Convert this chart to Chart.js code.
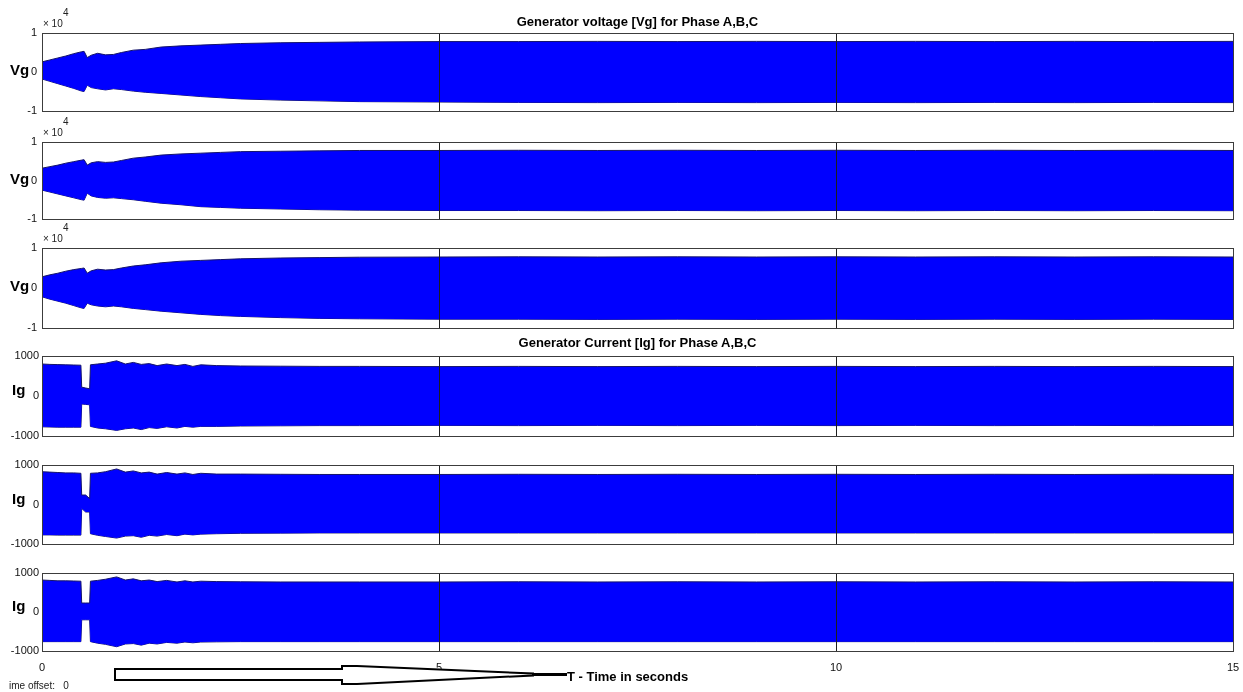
<!DOCTYPE html>
<html>
<head>
<meta charset="utf-8">
<script src="https://cdn.jsdelivr.net/npm/chart.js@4.4.1/dist/chart.umd.min.js"></script>
<style>
  html, body { margin: 0; padding: 0; background: #fff; }
  body { width: 1243px; height: 692px; overflow: hidden; position: relative;
         font-family: "Liberation Sans", Arial, sans-serif; color: #000; }
  canvas { position: absolute; left: 0; }
  .txt { position: absolute; white-space: nowrap; }
  .title { font-weight: bold; font-size: 13px; line-height: 16px; width: 600px; text-align: center; }
  .ylab { font-weight: bold; font-size: 15px; line-height: 18px; }
  .exp { font-size: 10px; line-height: 12px; color: #222; }
  svg { position: absolute; left: 0; top: 0; }
</style>
</head>
<body>
<script>
// ---------- data: envelope of the three-phase waveforms ----------
const voltTime = [0, 0.1, 0.2, 0.3, 0.4, 0.5, 0.53, 0.57, 0.62, 0.7, 0.8, 0.9, 1.0, 1.15, 1.3, 1.5,
  1.75, 2.0, 2.25, 2.5, 3.0, 3.5, 4.0, 5, 6, 7, 8, 9, 10, 11, 12, 13, 14, 15];

const vgAUpper = [2600, 3100, 3600, 4100, 4700, 5200, 5300, 3700, 4300, 4800, 4400, 4500, 5000, 5600, 5800, 6400,
  6700, 6900, 7100, 7300, 7500, 7600, 7700, 7800, 7800, 7850, 7800, 7850, 7800, 7850, 7800, 7850, 7800, 7850];
const vgALower = [-1800, -2400, -3000, -3600, -4200, -4900, -5000, -3400, -4000, -4300, -4600, -4300, -4500, -4900, -5200, -5500,
  -5900, -6300, -6600, -6900, -7200, -7400, -7600, -7700, -7800, -7850, -7800, -7850, -7800, -7850, -7800, -7850, -7800, -7850];

const vgBUpper = [3200, 3600, 4000, 4500, 4900, 5300, 5400, 4000, 4600, 4900, 4700, 4800, 5200, 5800, 6100, 6600,
  6900, 7100, 7300, 7500, 7600, 7700, 7800, 7800, 7850, 7800, 7850, 7800, 7850, 7800, 7850, 7800, 7850, 7800];
const vgBLower = [-2500, -3000, -3500, -4000, -4500, -5000, -5100, -3300, -4000, -4400, -4600, -4500, -4700, -5000, -5400, -5900,
  -6300, -6800, -7000, -7200, -7400, -7600, -7700, -7800, -7800, -7850, -7800, -7850, -7800, -7850, -7800, -7850, -7800, -7850];

const vgCUpper = [2800, 3300, 3700, 4200, 4600, 4900, 5000, 3700, 4300, 4700, 4500, 4600, 5000, 5500, 5800, 6300,
  6700, 6900, 7100, 7300, 7500, 7600, 7700, 7750, 7800, 7750, 7800, 7750, 7800, 7750, 7800, 7750, 7800, 7750];
const vgCLower = [-2200, -2800, -3300, -3800, -4400, -5000, -5100, -3800, -4200, -4500, -4700, -4500, -4700, -5100, -5400, -5800,
  -6200, -6600, -6900, -7100, -7400, -7600, -7700, -7800, -7800, -7850, -7800, -7850, -7800, -7850, -7800, -7850, -7800, -7850];

const currTime = [0, 0.1, 0.2, 0.3, 0.4, 0.49, 0.5, 0.55, 0.6, 0.61, 0.7, 0.8, 0.94, 1.05, 1.15, 1.25, 1.35, 1.45,
  1.57, 1.7, 1.8, 1.9, 2.0, 2.2, 2.5, 3.0, 3.5, 4.0, 5, 6, 7, 8, 9, 10, 11, 12, 13, 14, 15];

const igAUpper = [800, 790, 785, 780, 775, 770, 220, 200, 180, 780, 800, 820, 880, 800, 840, 790, 810, 760,
  800, 760, 790, 740, 780, 760, 750, 745, 740, 740, 735, 740, 735, 740, 735, 740, 735, 740, 735, 740, 735];
const igALower = [-770, -775, -780, -780, -780, -780, -200, -210, -220, -760, -800, -820, -860, -820, -800, -840, -790, -810,
  -770, -800, -760, -780, -760, -760, -750, -745, -740, -740, -735, -740, -735, -740, -735, -740, -735, -740, -735, -740, -735];

const igBUpper = [830, 820, 810, 800, 800, 790, 240, 240, 150, 790, 800, 830, 900, 820, 850, 800, 820, 770,
  810, 770, 800, 760, 790, 770, 770, 765, 760, 760, 760, 765, 760, 765, 760, 765, 760, 765, 760, 765, 760];
const igBLower = [-770, -770, -775, -775, -775, -775, -100, -190, -190, -740, -780, -810, -850, -800, -790, -830, -780, -800,
  -760, -790, -750, -770, -750, -740, -730, -725, -720, -720, -720, -720, -720, -720, -720, -720, -720, -720, -720, -720, -720];

const igCUpper = [820, 810, 800, 800, 795, 790, 230, 230, 230, 790, 810, 840, 900, 820, 850, 800, 820, 780,
  810, 770, 800, 770, 790, 780, 775, 770, 770, 770, 770, 775, 770, 775, 770, 775, 770, 775, 770, 775, 770];
const igCLower = [-760, -760, -760, -760, -760, -760, -200, -200, -200, -760, -800, -830, -890, -820, -810, -850, -800, -820,
  -780, -800, -770, -790, -770, -765, -760, -760, -760, -760, -760, -760, -760, -760, -760, -760, -760, -760, -760, -760, -760];

// ---------- tick labels ----------
const voltTicks = [-10000, 0, 10000];
const currTicks = [-1000, 0, 1000];
const timeTicks = [0, 5, 10, 15];

// ---------- layout of the six stacked axes ----------
const panels = [
  { top: 33,  bottom: 111, t: voltTime, up: vgAUpper, lo: vgALower, kind: 'V' },
  { top: 142, bottom: 219, t: voltTime, up: vgBUpper, lo: vgBLower, kind: 'V' },
  { top: 248, bottom: 328, t: voltTime, up: vgCUpper, lo: vgCLower, kind: 'V' },
  { top: 356, bottom: 436, t: currTime, up: igAUpper, lo: igALower, kind: 'I' },
  { top: 465, bottom: 544, t: currTime, up: igBUpper, lo: igBLower, kind: 'I' },
  { top: 573, bottom: 651, t: currTime, up: igCUpper, lo: igCLower, kind: 'I', showX: true }
];

const FONT = '"Liberation Sans", Arial, sans-serif';
const PLOT_LEFT = 42, PLOT_RIGHT = 1233, PAD = 12;

// frame box and the vertical grid lines at the inner time ticks, drawn over the waveform
const framePlugin = {
  id: 'frame',
  afterDatasetsDraw(chart) {
    const { ctx, chartArea: a, scales } = chart;
    ctx.save();
    ctx.lineWidth = 1;
    ctx.strokeStyle = '#1e1e1e';
    timeTicks.slice(1, -1).forEach(v => {
      const x = Math.round(scales.x.getPixelForValue(v)) + 0.5;
      ctx.beginPath(); ctx.moveTo(x, a.top); ctx.lineTo(x, a.bottom); ctx.stroke();
    });
    ctx.strokeStyle = '#3c3c3c';
    ctx.strokeRect(Math.round(a.left) + 0.5, Math.round(a.top) + 0.5,
                   Math.round(a.right - a.left), Math.round(a.bottom - a.top));
    ctx.restore();
  }
};

panels.forEach(p => {
  const axisH = p.showX ? 20 : 0;
  const padBottom = p.showX ? 2 : PAD;
  const h = (p.bottom - p.top) + PAD + padBottom + axisH;
  const cv = document.createElement('canvas');
  cv.width = 1243; cv.height = h;
  cv.style.top = (p.top - PAD) + 'px';
  document.body.appendChild(cv);

  const isV = p.kind === 'V';
  const yTicks = isV ? voltTicks : currTicks;
  const edge = '#14146a';

  new Chart(cv, {
    type: 'line',
    data: {
      datasets: [
        { data: p.t.map((t, i) => ({ x: t, y: p.up[i] })), borderColor: edge, borderWidth: 1,
          backgroundColor: '#0000ff', fill: '+1', pointRadius: 0, tension: 0 },
        { data: p.t.map((t, i) => ({ x: t, y: p.lo[i] })), borderColor: edge, borderWidth: 1,
          fill: false, pointRadius: 0, tension: 0 }
      ]
    },
    options: {
      responsive: false, animation: false, events: [],
      layout: { padding: { left: 0, right: 1243 - PLOT_RIGHT, top: PAD, bottom: padBottom } },
      plugins: { legend: { display: false }, tooltip: { enabled: false }, title: { display: false } },
      scales: {
        x: {
          type: 'linear', min: 0, max: 15,
          grid: { display: false }, border: { display: false },
          afterBuildTicks: s => { s.ticks = timeTicks.map(v => ({ value: v })); },
          ticks: { display: !!p.showX, maxRotation: 0, padding: 2, color: '#111',
                   font: { family: FONT, size: 11 } },
          afterFit: s => { s.height = axisH; }
        },
        y: {
          min: yTicks[0], max: yTicks[yTicks.length - 1],
          grid: { display: false, drawTicks: false }, border: { display: false },
          afterBuildTicks: s => { s.ticks = yTicks.map(v => ({ value: v })); },
          ticks: { padding: isV ? 5 : 3, color: '#111', font: { family: FONT, size: 11 },
                   callback: v => isV ? String(v / 10000) : String(v) },
          afterFit: s => { s.width = PLOT_LEFT; }
        }
      }
    },
    plugins: [framePlugin]
  });
});

// ---------- text labels ----------
function addText(html, cls, left, top) {
  const d = document.createElement('div');
  d.className = 'txt ' + cls;
  d.innerHTML = html;
  d.style.left = left + 'px';
  d.style.top = top + 'px';
  document.body.appendChild(d);
  return d;
}
const centerX = (PLOT_LEFT + PLOT_RIGHT) / 2;
addText('Generator voltage [Vg] for Phase A,B,C', 'title', centerX - 300, 14);
addText('Generator Current [Ig] for Phase A,B,C', 'title', centerX - 300, 335);

panels.forEach(p => {
  const mid = (p.top + p.bottom) / 2;
  if (p.kind === 'V') {
    addText('Vg', 'ylab', 10, mid - 11);
    addText('\u00d7 10', 'exp', 43, p.top - 15);
    addText('4', 'exp', 63, p.top - 26);
  } else {
    addText('Ig', 'ylab', 12, mid - 15);
  }
});

addText('ime offset:&nbsp;&nbsp;&nbsp;0', 'exp', 9, 680);
addText('T - Time in seconds', 'ylab', 567, 668).style.fontSize = '13px';
</script>

<svg width="1243" height="692" viewBox="0 0 1243 692">
  <path d="M115,669 L342,669 L342,666 L357,666 L533,673.5 L533,675.5 L357,684 L342,684 L342,680 L115,680 Z"
        fill="#fff" stroke="#000" stroke-width="2" stroke-linejoin="miter"/>
  <line x1="533" y1="674.5" x2="567" y2="674.5" stroke="#000" stroke-width="3"/>
</svg>
</body>
</html>
